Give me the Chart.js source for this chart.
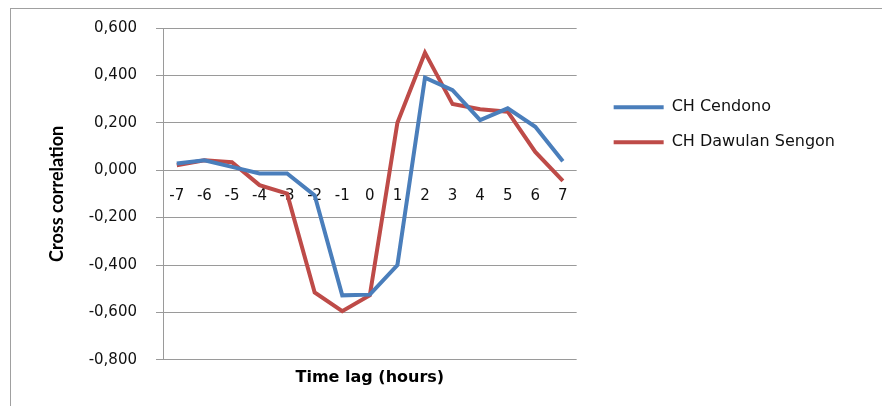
<!DOCTYPE html>
<html lang="en">
<head>
    <meta charset="UTF-8">
    <title>Cross correlation</title>
    <style>
        body { margin: 0; background: #fff; }
    </style>
</head>
<body>
    <canvas id="lagChart" width="882" height="406"></canvas>

    <script src="https://cdn.jsdelivr.net/npm/chart.js"></script>

    <script>
        const LAGS = ['-7', '-6', '-5', '-4', '-3', '-2', '-1', '0', '1', '2', '3', '4', '5', '6', '7'];
        const CENDONO = [0.028, 0.042, 0.014, -0.014, -0.014, -0.106, -0.528, -0.525, -0.400, 0.390, 0.338, 0.211, 0.261, 0.183, 0.038];
        const DAWULAN = [0.021, 0.042, 0.034, -0.063, -0.099, -0.516, -0.595, -0.528, 0.200, 0.496, 0.279, 0.257, 0.247, 0.077, -0.045];
        const Y_MIN = -0.8;
        const Y_MAX = 0.6;
        const Y_STEP = 0.2;

        // outer frame, runs off the right and bottom like the original
        const framePlugin = {
            id: 'frame',
            beforeDraw(chart) {
                const c = chart.ctx;
                c.save();
                c.strokeStyle = '#a0a0a0';
                c.lineWidth = 1;
                c.strokeRect(10.5, 8.5, 1000, 1000);
                c.restore();
            }
        };

        function fmt(v) {
            if (Math.abs(v) < 1e-9) v = 0;
            return v.toFixed(3).replace('.', ',');
        }

        var ctx = document.getElementById('lagChart').getContext('2d');

        var lagChart = new Chart(ctx, {
            type: 'line',
            data: {
                labels: LAGS,
                datasets: [{
                    label: 'CH Cendono',
                    data: CENDONO,
                    borderColor: '#4a7ebb',
                    backgroundColor: '#4a7ebb',
                    borderWidth: 4,
                    pointRadius: 0,
                    tension: 0
                },
                {
                    label: 'CH Dawulan Sengon',
                    data: DAWULAN,
                    borderColor: '#be4b48',
                    backgroundColor: '#be4b48',
                    borderWidth: 4,
                    pointRadius: 0,
                    tension: 0
                }]
            },
            options: {
                responsive: false,
                animation: false,
                layout: {
                    padding: { left: 0, top: 28, right: 37, bottom: 19 }
                },
                scales: {
                    x: {
                        position: { y: 0 },
                        offset: true,
                        grid: { display: false, drawTicks: false },
                        border: { display: false },
                        ticks: {
                            padding: 17,
                            color: '#111',
                            font: { family: 'DejaVu Sans', size: 15 }
                        }
                    },
                    y: {
                        min: Y_MIN,
                        max: Y_MAX,
                        afterFit(s) { s.width = 163; },
                        grid: { color: '#9a9a9a', tickLength: 7 },
                        border: { color: '#9a9a9a' },
                        ticks: {
                            stepSize: Y_STEP,
                            padding: 19,
                            color: '#111',
                            font: { family: 'DejaVu Sans', size: 15 },
                            callback: fmt
                        },
                        title: {
                            display: true,
                            text: 'Cross correlation',
                            color: '#000',
                            padding: { top: 46, bottom: 0 },
                            font: { family: 'Lato', size: 18, weight: 'bold' }
                        }
                    },
                    gap: {
                        type: 'linear',
                        position: 'right',
                        min: 0,
                        max: 1,
                        afterFit(s) { s.width = 18; },
                        grid: { display: false },
                        border: { display: false },
                        ticks: { display: false }
                    }
                },
                plugins: {
                    legend: {
                        position: 'right',
                        align: 'start',
                        maxWidth: 320,
                        title: {
                            display: true,
                            text: ' ',
                            padding: { top: 33, bottom: 0 },
                            font: { family: 'DejaVu Sans', size: 16 }
                        },
                        labels: {
                            usePointStyle: true,
                            pointStyle: 'line',
                            pointStyleWidth: 50,
                            padding: 19,
                            color: '#111',
                            font: { family: 'DejaVu Sans', size: 16 }
                        }
                    },
                    title: {
                        display: true,
                        position: 'bottom',
                        fullSize: false,
                        text: 'Time lag (hours)',
                        color: '#000',
                        padding: { top: 8, bottom: 0 },
                        font: { family: 'DejaVu Sans', size: 16, weight: 'bold' }
                    },
                    tooltip: { enabled: false }
                }
            },
            plugins: [framePlugin]
        });
    </script>
</body>
</html>
